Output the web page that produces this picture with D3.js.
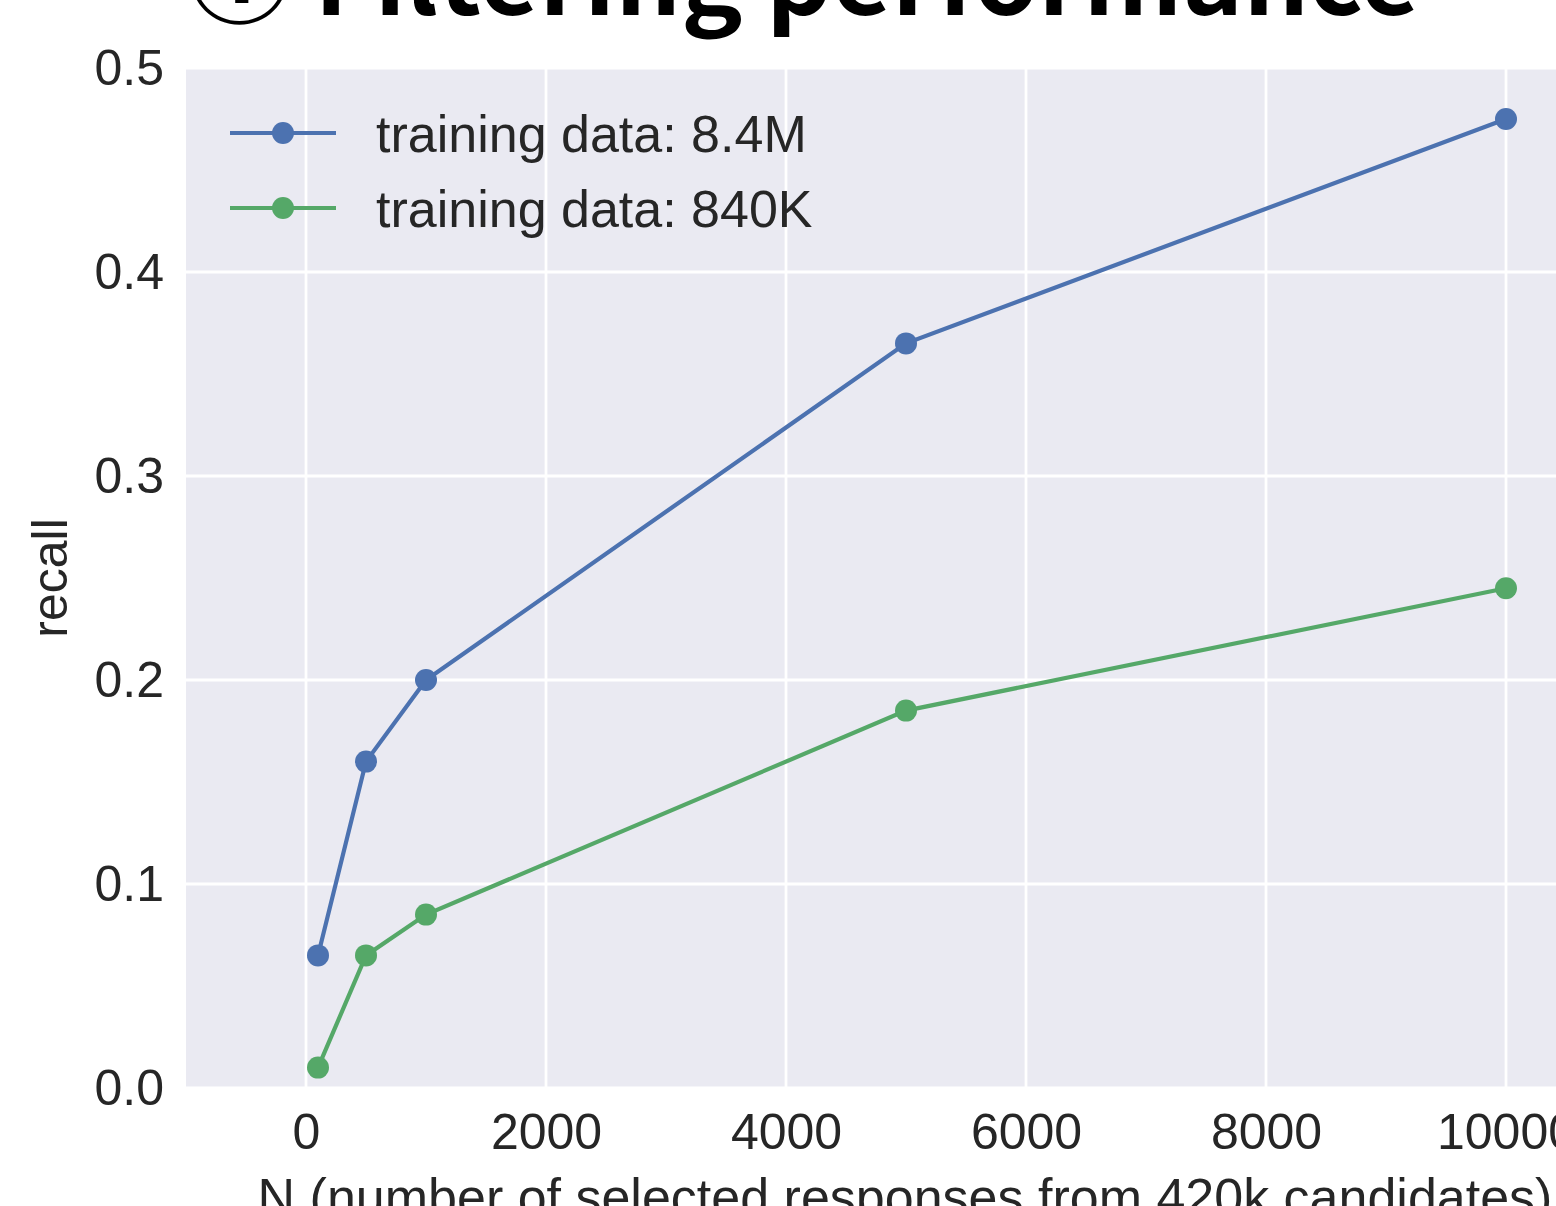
<!DOCTYPE html>
<html>
<head>
<meta charset="utf-8">
<script src="https://cdn.jsdelivr.net/npm/d3@7"></script>
<style>
  body { margin: 0; background: #fff; }
  svg { display: block; }
</style>
</head>
<body>
<script>
// data
const nValues = [100, 500, 1000, 5000, 10000]
const recall84M = [0.065, 0.16, 0.20, 0.365, 0.475]
const recall840K = [0.01, 0.065, 0.085, 0.185, 0.245]
const seriesNames = ['training data: 8.4M', 'training data: 840K']
const xTicks = [0, 2000, 4000, 6000, 8000, 10000]
const yTicks = [0.0, 0.1, 0.2, 0.3, 0.4, 0.5]

// text
const heading = '① Filtering performance'
const xAxisLabel = 'N (number of selected responses from 420k candidates)'
const yAxisLabel = 'recall'

// variables
const width = 1556
const height = 1206
const margin = { top: 68, bottom: 118, left: 186, right: -70 }
const innerWidth = width - margin.left - margin.right
const innerHeight = height - margin.top - margin.bottom
const colors = ['#4C72B0', '#55A868']
const bg = '#EAEAF2'
const textColor = '#262626'
const font = '"Liberation Sans", Arial, sans-serif'

const svg = d3.select('body')
  .append('svg')
  .attr('width', width)
  .attr('height', height)

const main = svg.append('g')
  .attr('transform', `translate(${margin.left}, ${margin.top})`)

// scales
const xScale = d3.scaleLinear()
  .domain([-1000, 11000])
  .range([0, innerWidth])
const yScale = d3.scaleLinear()
  .domain([0, 0.5])
  .range([innerHeight, 0])

// background
main.append('rect')
  .attr('width', innerWidth)
  .attr('height', innerHeight)
  .attr('fill', bg)

// grid
main.append('g')
  .selectAll('line')
  .data(xTicks)
  .enter()
  .append('line')
  .attr('x1', d => xScale(d))
  .attr('x2', d => xScale(d))
  .attr('y1', 0)
  .attr('y2', innerHeight)
  .attr('stroke', '#fff')
  .attr('stroke-width', 2.8)
main.append('g')
  .selectAll('line')
  .data(yTicks)
  .enter()
  .append('line')
  .attr('x1', 0)
  .attr('x2', innerWidth)
  .attr('y1', d => yScale(d))
  .attr('y2', d => yScale(d))
  .attr('stroke', '#fff')
  .attr('stroke-width', 2.8)

// axes (no domain / tick lines, seaborn darkgrid style)
const xAxis = d3.axisBottom(xScale)
  .tickValues(xTicks)
  .tickSize(0)
  .tickPadding(25)
  .tickFormat(d3.format('d'))
const yAxis = d3.axisLeft(yScale)
  .tickValues(yTicks)
  .tickSize(0)
  .tickPadding(22)
  .tickFormat(d3.format('.1f'))

const gx = main.append('g')
  .attr('transform', `translate(0, ${innerHeight})`)
  .call(xAxis)
const gy = main.append('g')
  .call(yAxis)
;[gx, gy].forEach(g => {
  g.select('.domain').remove()
  g.selectAll('text')
    .attr('font-family', font)
    .attr('font-size', 50)
    .attr('fill', textColor)
})

// lines + markers
const series = [recall84M, recall840K]
const line = d3.line()
  .x((d, i) => xScale(nValues[i]))
  .y(d => yScale(d))

series.forEach((vals, k) => {
  main.append('path')
    .datum(vals)
    .attr('d', line)
    .attr('fill', 'none')
    .attr('stroke', colors[k])
    .attr('stroke-width', 4.2)
  main.append('g')
    .selectAll('circle')
    .data(vals)
    .enter()
    .append('circle')
    .attr('cx', (d, i) => xScale(nValues[i]))
    .attr('cy', d => yScale(d))
    .attr('r', 11)
    .attr('fill', colors[k])
})

// legend
const legend = main.append('g')
  .attr('transform', 'translate(44, 65)')
seriesNames.forEach((name, k) => {
  const g = legend.append('g')
    .attr('transform', `translate(0, ${k * 75})`)
  g.append('line')
    .attr('x1', 0).attr('x2', 106)
    .attr('stroke', colors[k])
    .attr('stroke-width', 4.2)
  g.append('circle')
    .attr('cx', 53)
    .attr('r', 11)
    .attr('fill', colors[k])
  g.append('text')
    .attr('x', 146)
    .attr('y', 19)
    .attr('font-family', font)
    .attr('font-size', 52)
    .attr('fill', textColor)
    .text(name)
})

// axis labels
svg.append('text')
  .attr('x', 905)
  .attr('y', 1215)
  .attr('text-anchor', 'middle')
  .attr('font-family', font)
  .attr('font-size', 52)
  .attr('fill', textColor)
  .text(xAxisLabel)

svg.append('text')
  .attr('transform', `translate(67, ${margin.top + innerHeight / 2}) rotate(-90)`)
  .attr('text-anchor', 'middle')
  .attr('font-family', font)
  .attr('font-size', 50)
  .attr('fill', textColor)
  .text(yAxisLabel)

// heading (clipped at the top in the original)
svg.append('text')
  .attr('x', 188)
  .attr('y', 15)
  .attr('font-family', '"Noto Sans CJK SC", "Noto Sans", sans-serif')
  .attr('font-weight', 'bold')
  .attr('font-size', 100)
  .attr('textLength', 1232)
  .attr('lengthAdjust', 'spacingAndGlyphs')
  .attr('fill', '#000')
  .text(heading)
</script>
</body>
</html>
